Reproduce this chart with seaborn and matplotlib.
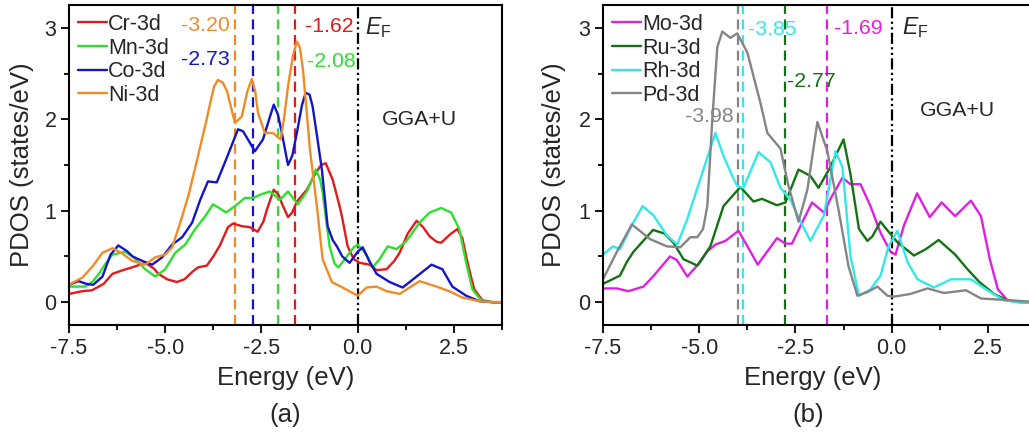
import pandas as pd
import numpy as np
import matplotlib
matplotlib.use('agg')
import matplotlib.pyplot as plt
from matplotlib.ticker import MultipleLocator, FormatStrFormatter
import seaborn as sns

# ---- panel (a) ----
cr_e = [-7.5, -7.15, -6.9, -6.6, -6.37, -6.1, -5.86, -5.52, -5.3, -5.18, -4.95, -4.7, -4.5, -4.3, -4.15,
        -3.92, -3.75, -3.58, -3.37, -3.24, -3.0, -2.8, -2.6, -2.45, -2.36, -2.18, -2.05, -1.97, -1.81, -1.7,
        -1.58, -1.32, -1.11, -0.95, -0.83, -0.65, -0.47, -0.41, -0.26, -0.1, 0.05, 0.31, 0.49, 0.75, 0.95,
        1.09, 1.3, 1.53, 1.7, 1.87, 2.05, 2.17, 2.4, 2.59, 2.72, 2.82, 2.93, 3.03, 3.24, 3.5, 3.75]
cr_pdos = [0.09, 0.12, 0.13, 0.2, 0.31, 0.35, 0.38, 0.43, 0.37, 0.31, 0.25, 0.22, 0.25, 0.33, 0.38,
           0.40, 0.5, 0.62, 0.82, 0.86, 0.83, 0.82, 0.77, 0.88, 1.01, 1.23, 1.17, 1.08, 0.93, 0.98,
           1.10, 1.23, 1.40, 1.50, 1.52, 1.34, 1.05, 0.94, 0.61, 0.47, 0.43, 0.41, 0.35, 0.36, 0.45,
           0.54, 0.75, 0.89, 0.82, 0.72, 0.66, 0.65, 0.74, 0.80, 0.70, 0.50, 0.30, 0.14, 0.02, 0.0, 0.0]

mn_e = [-7.5, -7.07, -6.9, -6.74, -6.55, -6.37, -6.04, -5.85, -5.7, -5.52, -5.26, -5.0, -4.74, -4.48, -4.22,
        -3.96, -3.76, -3.6, -3.42, -3.19, -2.93, -2.72, -2.5, -2.28, -2.02, -1.81, -1.65, -1.55, -1.32, -1.2,
        -1.09, -0.98, -0.91, -0.82, -0.73, -0.6, -0.5, -0.28, -0.1, 0.0, 0.23, 0.39, 0.57, 0.78, 1.01,
        1.27, 1.61, 1.87, 2.17, 2.43, 2.64, 2.82, 2.98, 3.21, 3.5, 3.75]
mn_pdos = [0.17, 0.17, 0.22, 0.30, 0.42, 0.52, 0.55, 0.50, 0.44, 0.36, 0.28, 0.36, 0.54, 0.63, 0.80,
           0.94, 1.07, 1.03, 0.98, 1.05, 1.14, 1.14, 1.18, 1.21, 1.12, 1.21, 1.12, 1.07, 1.21, 1.33,
           1.45, 1.35, 1.20, 0.90, 0.61, 0.42, 0.38, 0.50, 0.60, 0.63, 0.52, 0.38, 0.47, 0.61, 0.58,
           0.67, 0.87, 0.98, 1.03, 0.98, 0.80, 0.43, 0.14, 0.02, 0.0, 0.0]

co_e = [-7.5, -7.25, -7.05, -6.87, -6.63, -6.42, -6.22, -6.0, -5.85, -5.59, -5.34, -5.08, -4.82, -4.56, -4.30,
        -4.09, -3.89, -3.66, -3.39, -3.11, -2.98, -2.88, -2.67, -2.46, -2.30, -2.18, -2.07, -1.97, -1.81, -1.70,
        -1.58, -1.45, -1.35, -1.25, -1.17, -1.05, -0.93, -0.78, -0.65, -0.54, -0.4, -0.21, 0.0, 0.13, 0.3,
        0.49, 0.83, 1.17, 1.53, 1.92, 2.20, 2.46, 2.82, 3.16, 3.5, 3.75]
co_pdos = [0.19, 0.23, 0.20, 0.19, 0.28, 0.52, 0.62, 0.56, 0.50, 0.45, 0.41, 0.49, 0.63, 0.71, 0.87,
           1.12, 1.32, 1.31, 1.59, 1.89, 1.87, 1.80, 1.65, 1.78, 2.00, 2.16, 2.05, 1.85, 1.50, 1.60,
           1.85, 2.15, 2.29, 2.27, 2.14, 1.80, 1.45, 0.83, 0.68, 0.61, 0.50, 0.43, 0.55, 0.60, 0.45,
           0.31, 0.22, 0.16, 0.28, 0.41, 0.36, 0.17, 0.07, 0.01, 0.0, 0.0]

ni_e = [-7.5, -7.15, -6.89, -6.63, -6.37, -6.11, -5.85, -5.52, -5.26, -5.0, -4.82, -4.61, -4.40, -4.17, -3.95,
        -3.83, -3.73, -3.63, -3.50, -3.39, -3.19, -3.01, -2.87, -2.75, -2.66, -2.59, -2.41, -2.20, -2.0, -1.90,
        -1.81, -1.68, -1.58, -1.50, -1.42, -1.24, -1.06, -0.91, -0.67, -0.39, 0.0, 0.23, 0.49, 0.75, 1.09,
        1.35, 1.61, 2.05, 2.38, 2.72, 3.16, 3.5, 3.75]
ni_pdos = [0.19, 0.27, 0.39, 0.54, 0.59, 0.53, 0.45, 0.41, 0.49, 0.52, 0.60, 0.87, 1.16, 1.56, 1.95,
           2.18, 2.36, 2.43, 2.40, 2.30, 1.96, 2.03, 2.30, 2.44, 2.30, 2.07, 1.85, 1.85, 1.78, 2.05,
           2.36, 2.70, 2.85, 2.78, 2.54, 1.67, 1.05, 0.47, 0.22, 0.16, 0.07, 0.16, 0.17, 0.12, 0.09,
           0.16, 0.23, 0.17, 0.12, 0.05, 0.01, 0.0, 0.0]

# ---- panel (b) ----
mo_e = [-7.5, -7.14, -6.84, -6.45, -6.2, -5.76, -5.58, -5.31, -4.97, -4.80, -4.58, -4.32, -3.98, -3.76, -3.48,
        -3.24, -2.98, -2.76, -2.59, -2.28, -2.07, -1.76, -1.59, -1.28, -1.07, -0.81, -0.55, -0.29, -0.03, 0.10,
        0.32, 0.66, 0.99, 1.30, 1.65, 2.06, 2.32, 2.55, 2.76, 3.01, 3.3, 3.75]
mo_pdos = [0.15, 0.15, 0.12, 0.17, 0.28, 0.50, 0.46, 0.28, 0.44, 0.55, 0.63, 0.67, 0.78, 0.62, 0.41,
           0.55, 0.70, 0.64, 0.64, 0.91, 1.09, 0.98, 1.13, 1.36, 1.29, 1.29, 1.05, 0.76, 0.55, 0.52,
           0.84, 1.19, 0.93, 1.09, 0.94, 1.11, 0.94, 0.47, 0.14, 0.02, 0.0, 0.0]

ru_e = [-7.5, -7.06, -6.88, -6.71, -6.2, -5.9, -5.67, -5.41, -5.05, -4.71, -4.37, -3.93, -3.59, -3.37, -2.98,
        -2.76, -2.42, -2.11, -1.90, -1.63, -1.25, -1.07, -0.85, -0.63, -0.5, -0.29, -0.1, 0.16, 0.58, 0.89,
        1.22, 1.65, 1.97, 2.28, 2.66, 3.01, 3.36, 3.75]
ru_pdos = [0.20, 0.29, 0.44, 0.55, 0.79, 0.75, 0.65, 0.47, 0.40, 0.61, 1.05, 1.26, 1.10, 1.13, 1.06,
           1.09, 1.45, 1.38, 1.25, 1.45, 1.78, 1.40, 0.80, 0.67, 0.72, 0.88, 0.78, 0.65, 0.51, 0.58,
           0.68, 0.52, 0.36, 0.22, 0.09, 0.02, 0.0, 0.0]

rh_e = [-7.5, -7.24, -7.06, -6.75, -6.47, -6.19, -5.84, -5.57, -5.31, -4.97, -4.58, -4.37, -4.11, -4.01, -3.85,
        -3.46, -3.15, -2.89, -2.63, -2.37, -2.11, -1.76, -1.46, -1.28, -1.07, -0.85, -0.55, -0.29, -0.08, 0.15,
        0.41, 0.67, 1.10, 1.54, 2.06, 2.49, 2.92, 3.3, 3.75]
rh_pdos = [0.52, 0.61, 0.58, 0.84, 1.05, 0.95, 0.73, 0.63, 0.91, 1.35, 1.85, 1.60, 1.35, 1.27, 1.25,
           1.64, 1.53, 1.25, 1.12, 0.88, 0.67, 0.95, 1.65, 1.48, 0.50, 0.07, 0.14, 0.29, 0.61, 0.78,
           0.44, 0.25, 0.16, 0.25, 0.25, 0.13, 0.02, 0.0, 0.0]

pd_e = [-7.5, -7.14, -6.75, -6.28, -5.84, -5.49, -5.23, -5.05, -4.90, -4.79, -4.66, -4.53, -4.40, -4.19, -4.01,
        -3.75, -3.41, -3.23, -2.89, -2.68, -2.42, -2.19, -1.93, -1.67, -1.38, -1.12, -0.89, -0.63, -0.37, -0.11,
        0.06, 0.49, 0.93, 1.36, 1.93, 2.32, 3.1, 3.75]
pd_pdos = [0.25, 0.55, 0.85, 0.69, 0.61, 0.60, 0.71, 0.71, 0.80, 1.05, 2.00, 2.79, 2.96, 2.89, 2.94,
           2.73, 2.18, 1.85, 1.68, 1.27, 0.88, 1.23, 1.97, 1.65, 1.01, 0.39, 0.07, 0.11, 0.17, 0.07,
           0.06, 0.09, 0.15, 0.10, 0.13, 0.04, 0.02, 0.0]

labels_a = ['Cr-3d', 'Mn-3d', 'Co-3d', 'Ni-3d']
labels_b = ['Mo-3d', 'Ru-3d', 'Rh-3d', 'Pd-3d']
colors_a = ['#e3191c', '#2ee02e', '#1414c8', '#f08c28']
colors_b = ['#e020e0', '#137313', '#33e8e8', '#858585']

# d-band centres (eV), same order as the labels
centers_a = [-1.62, -2.08, -2.73, -3.20]
centers_b = [-1.69, -2.77, -3.85, -3.98]


def long_table(names, es, vals):
    parts = []
    for n, e, v in zip(names, es, vals):
        parts.append(pd.DataFrame({'Energy': e, 'PDOS': v, 'orbital': n}))
    return pd.concat(parts, ignore_index=True)


df_a = long_table(labels_a, [cr_e, mn_e, co_e, ni_e], [cr_pdos, mn_pdos, co_pdos, ni_pdos])
df_b = long_table(labels_b, [mo_e, ru_e, rh_e, pd_e], [mo_pdos, ru_pdos, rh_pdos, pd_pdos])

sns.set_style('ticks')
plt.rcParams['font.family'] = ['Liberation Sans', 'DejaVu Sans']
plt.rcParams['axes.unicode_minus'] = False
plt.rcParams['mathtext.fontset'] = 'custom'
plt.rcParams['mathtext.it'] = 'Liberation Sans:italic'
plt.rcParams['mathtext.rm'] = 'Liberation Sans'

fig = plt.figure(figsize=(10.29, 4.34), dpi=100)
W, H = 1029, 434
ax_a = fig.add_axes([69 / W, 109 / H, 433 / W, 320 / H])
ax_b = fig.add_axes([603 / W, 109 / H, 433 / W, 320 / H])


def style_axis(ax, df, labels, colors, centers):
    sns.lineplot(data=df, x='Energy', y='PDOS', hue='orbital', hue_order=labels,
                 palette=colors, estimator=None, sort=False, linewidth=1.7, ax=ax)
    for c, col in zip(centers, colors):
        ax.axvline(c, color=col, lw=1.6, dashes=(4.5, 2.5), zorder=1)
    ax.axvline(0.0, color='black', lw=1.6, dashes=(5, 1.5, 1, 1.5, 1, 1.5), zorder=1)
    ax.set_xlim(-7.5, 3.75)
    ax.set_ylim(-0.25, 3.25)
    ax.xaxis.set_major_locator(MultipleLocator(2.5))
    ax.xaxis.set_minor_locator(MultipleLocator(1.25))
    ax.xaxis.set_major_formatter(FormatStrFormatter('%.1f'))
    ax.yaxis.set_major_locator(MultipleLocator(1))
    ax.yaxis.set_minor_locator(MultipleLocator(0.5))
    ax.tick_params(which='major', direction='out', length=6, width=1.3, labelsize=15.5, pad=3, color='black')
    ax.tick_params(which='minor', direction='out', length=3.5, width=1.3, color='black')
    for s in ax.spines.values():
        s.set_linewidth(1.5)
        s.set_color('black')
        s.set_visible(True)
    ax.set_ylabel('PDOS (states/eV)', fontsize=18.5)
    ax.set_xlabel('Energy (eV)', fontsize=18.5)
    ax.xaxis.label.set_va('center')
    h, l = ax.get_legend_handles_labels()
    ax.legend(h, l, loc='upper left', bbox_to_anchor=(0.006, 0.992), frameon=False, fontsize=15.5,
              handlelength=1.35, handletextpad=0.05, labelspacing=0.12, borderpad=0.2,
              borderaxespad=0.1)


style_axis(ax_a, df_a, labels_a, colors_a, centers_a)
style_axis(ax_b, df_b, labels_b, colors_b, centers_b)

ax_a.xaxis.set_label_coords(0.5, -0.166)
ax_b.xaxis.set_label_coords(0.485, -0.166)
ax_a.yaxis.set_label_coords(-0.081, 0.5)
ax_b.yaxis.set_label_coords(-0.086, 0.5)

ax_a.text(0.5, -0.28, '(a)', transform=ax_a.transAxes, fontsize=18.5, ha='center', va='center')
ax_b.text(0.473, -0.28, '(b)', transform=ax_b.transAxes, fontsize=18.5, ha='center', va='center')

fs = 15.3
ax_a.text(-3.32, 3.03, '-3.20', color=colors_a[3], fontsize=fs, ha='right', va='center')
ax_a.text(-3.32, 2.65, '-2.73', color=colors_a[2], fontsize=fs, ha='right', va='center')
ax_a.text(-1.37, 3.01, '-1.62', color=colors_a[0], fontsize=fs, ha='left', va='center')
ax_a.text(-1.32, 2.63, '-2.08', color=colors_a[1], fontsize=fs, ha='left', va='center')
ax_a.text(0.2, 3.0, r'$\mathit{E}_{\mathrm{F}}$', fontsize=16.5, ha='left', va='center')
ax_a.text(1.61, 2.0, 'GGA+U', fontsize=fs, ha='center', va='center')

ax_b.text(-3.72, 2.98, '-3.85', color=colors_b[2], fontsize=fs, ha='left', va='center')
ax_b.text(-1.51, 2.99, '-1.69', color=colors_b[0], fontsize=fs, ha='left', va='center')
ax_b.text(-2.71, 2.41, '-2.77', color=colors_b[1], fontsize=fs, ha='left', va='center')
ax_b.text(-4.11, 2.03, '-3.98', color=colors_b[3], fontsize=fs, ha='right', va='center')
ax_b.text(0.26, 3.0, r'$\mathit{E}_{\mathrm{F}}$', fontsize=16.5, ha='left', va='center')
ax_b.text(1.72, 2.1, 'GGA+U', fontsize=fs, ha='center', va='center')

fig.savefig('out.png', dpi=100)
